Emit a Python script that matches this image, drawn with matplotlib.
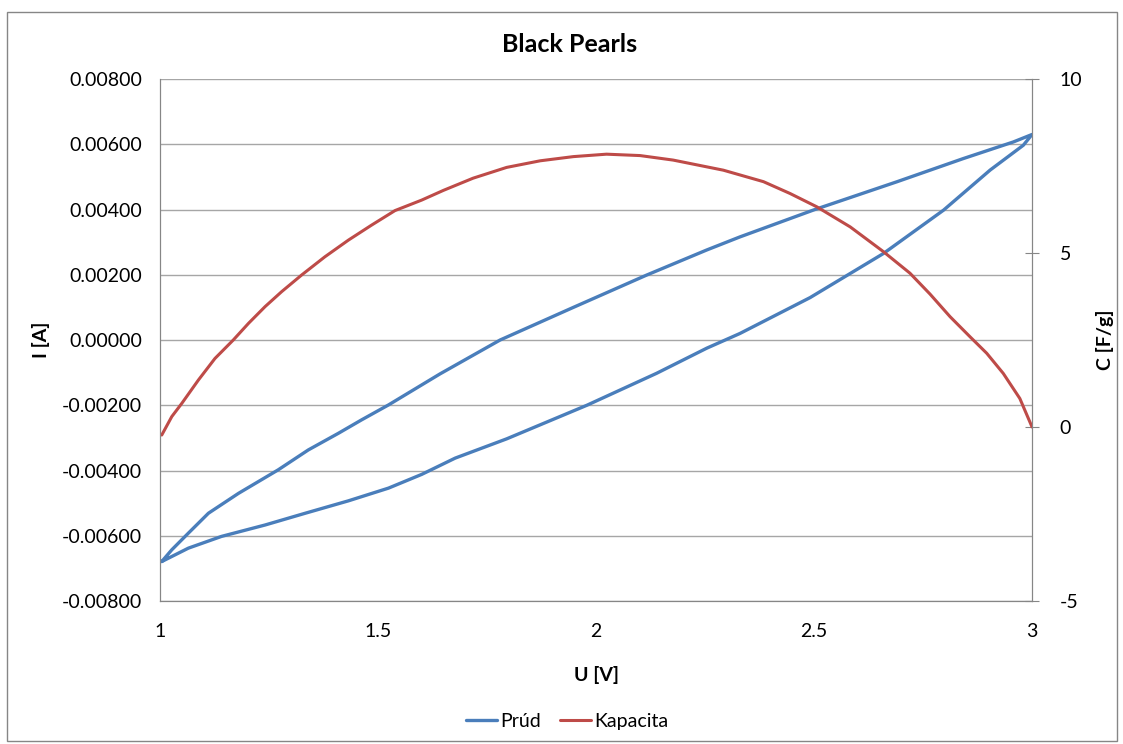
import matplotlib
matplotlib.use('Agg')
import matplotlib.pyplot as plt
from matplotlib.patches import Rectangle

plt.rcParams['font.family'] = ['Lato', 'DejaVu Sans']

# Prúd - dolná a horná vetva slučky (U [V], I [A])
u_dolna = [1.004, 1.065, 1.141, 1.241, 1.333, 1.432, 1.524, 1.600, 1.677, 1.795,
           1.979, 2.139, 2.254, 2.330, 2.491, 2.659, 2.797, 2.904, 2.980, 3.0]
i_dolna = [-0.00679, -0.00638, -0.00602, -0.00567, -0.00531, -0.00493, -0.00454,
           -0.00412, -0.00362, -0.00303, -0.00200, -0.00102, -0.00025, 0.00020,
           0.00130, 0.00265, 0.00398, 0.00521, 0.00597, 0.0063]
u_horna = [1.004, 1.027, 1.065, 1.111, 1.180, 1.271, 1.340, 1.409, 1.462, 1.524,
           1.642, 1.780, 1.948, 2.116, 2.254, 2.330, 2.502, 2.690, 2.842, 2.957, 3.0]
i_horna = [-0.00679, -0.00643, -0.00592, -0.00531, -0.00470, -0.00398, -0.00337,
           -0.00286, -0.00245, -0.00199, -0.00104, 0.0, 0.00100, 0.00199, 0.00276,
           0.00316, 0.00400, 0.00485, 0.00556, 0.00607, 0.0063]

# Kapacita (U [V], C [F/g])
u_kap = [1.004, 1.027, 1.05, 1.088, 1.126, 1.168, 1.203, 1.241, 1.279, 1.325,
         1.378, 1.432, 1.485, 1.539, 1.600, 1.650, 1.718, 1.795, 1.872, 1.948,
         2.024, 2.101, 2.177, 2.292, 2.384, 2.445, 2.506, 2.583, 2.659, 2.720,
         2.766, 2.812, 2.858, 2.896, 2.934, 2.972, 3.0]
c_kap = [-0.23, 0.30, 0.68, 1.35, 1.97, 2.5, 2.98, 3.46, 3.89, 4.37,
         4.89, 5.37, 5.80, 6.22, 6.52, 6.80, 7.15, 7.46, 7.65, 7.77,
         7.84, 7.80, 7.67, 7.38, 7.05, 6.71, 6.33, 5.75, 5.04, 4.42,
         3.82, 3.17, 2.59, 2.12, 1.54, 0.82, 0.0]

x_ticks = [1, 1.5, 2, 2.5, 3]
y_ticks = [-0.008, -0.006, -0.004, -0.002, 0.0, 0.002, 0.004, 0.006, 0.008]
y2_ticks = [-5, 0, 5, 10]

modra = '#4A7EBB'
cervena = '#BE4B48'
seda = '#868686'

fig = plt.figure(figsize=(11.23, 7.44), dpi=100)
ax = fig.add_axes([0.1425, 0.1922, 0.7765, 0.7016])
ax2 = ax.twinx()

u_slucka = u_dolna + u_horna[::-1]
i_slucka = i_dolna + i_horna[::-1]
l1, = ax.plot(u_slucka, i_slucka, color=modra, lw=2.4, label='Prúd',
              solid_joinstyle='round', solid_capstyle='round')
l2, = ax2.plot(u_kap, c_kap, color=cervena, lw=2.2, label='Kapacita',
               solid_joinstyle='round', solid_capstyle='round')

ax.set_xlim(1, 3)
ax.set_ylim(-0.008, 0.008)
ax2.set_ylim(-5, 10)
ax.set_xticks(x_ticks)
ax.set_xticklabels(['1', '1.5', '2', '2.5', '3'])
ax.set_yticks(y_ticks)
ax.set_yticklabels([f'{v:.5f}' for v in y_ticks])
ax2.set_yticks(y2_ticks)
ax2.set_yticklabels([str(v) for v in y2_ticks])

ax.grid(axis='y', color='#A6A6A6', lw=1)
ax.set_axisbelow(True)

for a in (ax, ax2):
    a.spines['top'].set_visible(False)
    for s in ('left', 'bottom', 'right'):
        a.spines[s].set_color(seda)
ax.tick_params(axis='both', length=0, labelsize=14, pad=13)
ax.tick_params(axis='x', pad=16)
ax2.tick_params(axis='y', direction='inout', length=10, color=seda, labelsize=14, pad=15)

# titulok a popisy osí
fig.text(0.5076, 1 - 45 / 744, 'Black Pearls', ha='center', va='center',
         fontsize=18, fontweight='bold')
ax.set_xlabel('U [V]', fontsize=14, fontweight='bold')
ax.xaxis.set_label_coords(0.5, -0.124)
ax.set_ylabel('I [A]', fontsize=14, fontweight='bold')
ax.yaxis.set_label_coords(-0.126, 0.5)
ax2.set_ylabel('C [F/g]', fontsize=14, fontweight='bold', rotation=90)
ax2.yaxis.set_label_coords(1.073, 0.5)

fig.legend(handles=[l1, l2], loc='center', bbox_to_anchor=(0.505, 0.030), ncol=2,
           frameon=False, fontsize=14, handlelength=1.6, columnspacing=1.0,
           handletextpad=0.15)

fig.patches.append(Rectangle((7 / 1123, 3 / 744), 1110 / 1123, 729 / 744,
                             transform=fig.transFigure, fill=False,
                             edgecolor=seda, lw=1))

plt.savefig('out.png', dpi=100)
